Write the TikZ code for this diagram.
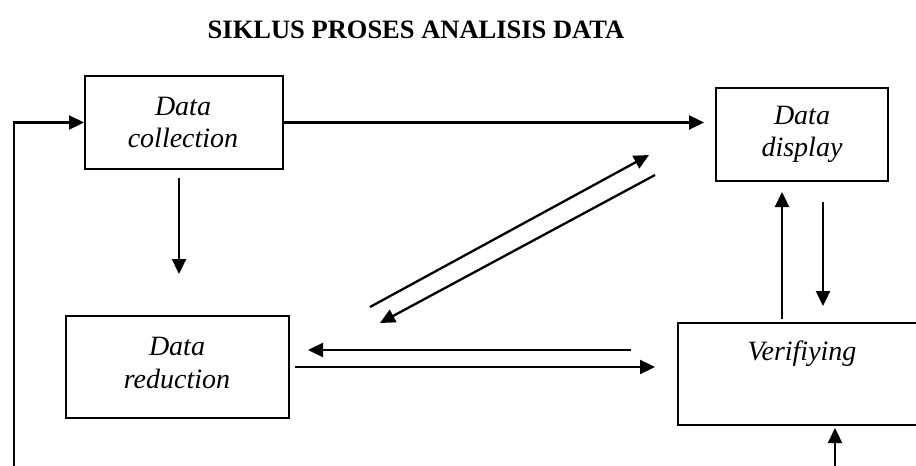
\documentclass[tikz,border=0pt]{standalone}
\usepackage{fontspec}
\setmainfont{Liberation Serif}
\usetikzlibrary{arrows.meta,calc}

\tikzset{
  box/.style={draw, line width=2pt, rectangle, inner sep=0pt},
  lbl/.style={anchor=base, inner sep=0pt, font=\fontsize{28}{33}\selectfont\itshape},
  arr/.style={line width=2.3pt, -{Triangle[length=15pt,width=14pt]}}
}

\begin{document}
\begin{tikzpicture}[x=1pt,y=-1pt]
  \useasboundingbox (0,0) rectangle (916,466);
  \clip (0,0) rectangle (916,466);

  % title
  \node[anchor=base, inner sep=0pt, font=\fontsize{26.5}{30}\selectfont\bfseries]
    (title) at (416,38) {SIKLUS PROSES ANALISIS DATA};

  % the four stages
  \node[box, minimum width=198pt, minimum height=93pt] (coll) at (184,122.5) {};
  \node[box, minimum width=172pt, minimum height=93pt] (disp) at (802,134.5) {};
  \node[box, minimum width=223pt, minimum height=102pt] (red) at (177.5,367) {};
  \node[box, minimum width=252pt, minimum height=102pt] (ver) at (804,374) {};

  % stage names
  \node[lbl] (collA) at (183,115) {Data};
  \node[lbl] (collB) at (183,147) {collection};
  \node[lbl] (dispA) at (802,124) {Data};
  \node[lbl] (dispB) at (802,156) {display};
  \node[lbl] (redA)  at (177,355) {Data};
  \node[lbl] (redB)  at (177,388) {reduction};
  \node[lbl] (verA)  at (802,360) {Verifiying};

  % loose ends of connectors
  \coordinate (fb) at (14,480);
  \coordinate (up) at (835,480);
  \coordinate (d1s) at (370,307);
  \coordinate (d1e) at (649,155);
  \coordinate (d2s) at (655,175);
  \coordinate (d2e) at (380,323);

  % feedback loop back to collection
  \draw[arr] (fb) |- (coll.west);

  % collection -> display
  \draw[arr, shorten >=11pt] (coll.east) -- (coll.east -| disp.west);

  % collection -> reduction
  \draw[arr] ([xshift=-5pt,yshift=-8pt]coll.south) -- ([xshift=1.5pt,yshift=41pt]red.north);

  % reduction <-> display
  \draw[arr] (d1s) -- (d1e);
  \draw[arr] (d2s) -- (d2e);

  % reduction <-> verifying
  \draw[arr] ([xshift=-46pt,yshift=24pt]ver.west) -- ([xshift=18pt,yshift=17pt]red.east);
  \draw[arr] ([xshift=5pt]red.east) -- ([xshift=-22pt,yshift=7pt]ver.west);

  % verifying <-> display
  \draw[arr] ([xshift=-22pt,yshift=3pt]ver.north) -- ([xshift=-20pt,yshift=-10pt]disp.south);
  \draw[arr] ([xshift=21pt,yshift=-20pt]disp.south) -- ([xshift=19pt,yshift=16pt]ver.north);

  % incoming arrow from below
  \draw[arr] (up) -- ([xshift=31pt,yshift=-2pt]ver.south);
\end{tikzpicture}
\end{document}
